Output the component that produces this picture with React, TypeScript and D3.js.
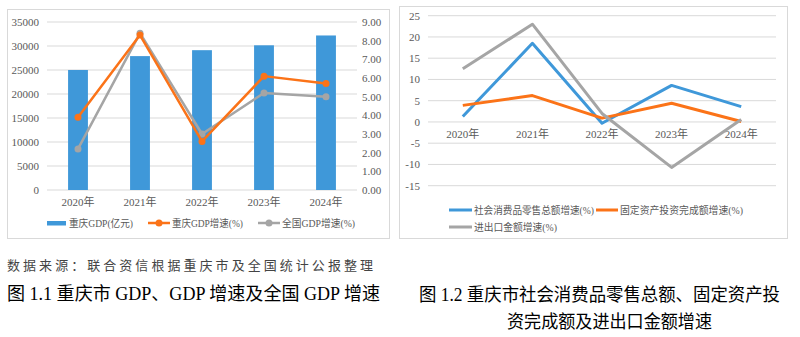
import React from "react";
import * as d3 from "d3";

const years = ["2020年", "2021年", "2022年", "2023年", "2024年"];
const cqGdp = [25003, 27894, 29129, 30145, 32193];
const cqGdpGrowth = [3.9, 8.3, 2.6, 6.1, 5.7];
const cnGdpGrowth = [2.2, 8.4, 3.0, 5.2, 5.0];
const leftTicks = [0, 5000, 10000, 15000, 20000, 25000, 30000, 35000];
const rightTicks = [0, 1, 2, 3, 4, 5, 6, 7, 8, 9];

const retailGrowth = [1.3, 18.5, -0.3, 8.6, 3.6];
const investGrowth = [3.9, 6.2, 0.9, 4.4, 0.1];
const tradeGrowth = [12.5, 23.0, 2.0, -10.7, 0.6];
const r2Ticks = [-15, -10, -5, 0, 5, 10, 15, 20, 25];

const sourceText = "数据来源：联合资信根据重庆市及全国统计公报整理";
const caption1 = "图 1.1 重庆市 GDP、GDP 增速及全国 GDP 增速";
const caption2a = "图 1.2 重庆市社会消费品零售总额、固定资产投";
const caption2b = "资完成额及进出口金额增速";

const BLUE = "#3f98d9";
const ORANGE = "#fb7318";
const GRAY = "#a5a5a5";
const GRID = "#d9d9d9";
const LABEL = "#595959";
const FONT = "'Liberation Serif', 'Noto Sans CJK SC', serif";
const CJK = "'Noto Sans CJK SC', sans-serif";

export default function App() {
  const x1 = d3.scaleBand<string>().domain(years).range([47, 357]).paddingInner(0.68).paddingOuter(0.34);
  const yL = d3.scaleLinear().domain([0, 35000]).range([190, 22]);
  const yR = d3.scaleLinear().domain([0, 9]).range([190, 22]);
  const cx1 = (d: string) => (x1(d) as number) + x1.bandwidth() / 2;
  const lineCq = d3.line<number>().x((_, i) => cx1(years[i])).y((v) => yR(v));

  const x2 = d3.scalePoint<string>().domain(years).range([428, 776]).padding(0.5);
  const y2 = d3.scaleLinear().domain([-15, 25]).range([185.7, 15.7]);
  const line2 = d3.line<number>().x((_, i) => x2(years[i]) as number).y((v) => y2(v));

  const legText = (x: number, y: number, s: string, w: number) => (
    <text x={x} y={y} dy="0.35em" fontSize={10.5} fill={LABEL} fontFamily={FONT} textLength={w} lengthAdjust="spacingAndGlyphs">{s}</text>
  );

  return (
    <svg width={800} height={337} style={{ position: "absolute", left: 0, top: 0, background: "#fff" }}>
      <rect x={0} y={0} width={800} height={337} fill="#fff" />
      <rect x={7.5} y={9.5} width={382} height={229} fill="#fff" stroke={GRID} strokeWidth={1} />
      {leftTicks.map((t) => (
        <g key={"lt" + t}>
          <line x1={47} x2={357} y1={yL(t)} y2={yL(t)} stroke={GRID} strokeWidth={1} />
          <text x={39} y={yL(t)} dy="0.35em" textAnchor="end" fontSize={11} fill={LABEL} fontFamily={FONT}>{t}</text>
        </g>
      ))}
      {rightTicks.map((t) => (
        <text key={"rt" + t} x={362} y={yR(t)} dy="0.35em" textAnchor="start" fontSize={11} fill={LABEL} fontFamily={FONT}>{t.toFixed(2)}</text>
      ))}
      {cqGdp.map((v, i) => (
        <rect key={"b" + i} x={x1(years[i])} y={yL(v)} width={x1.bandwidth()} height={yL(0) - yL(v)} fill={BLUE} />
      ))}
      <path d={lineCq(cnGdpGrowth) as string} fill="none" stroke={GRAY} strokeWidth={2.5} strokeLinejoin="round" />
      {cnGdpGrowth.map((v, i) => (
        <circle key={"cg" + i} cx={cx1(years[i])} cy={yR(v)} r={3.5} fill={GRAY} />
      ))}
      <path d={lineCq(cqGdpGrowth) as string} fill="none" stroke={ORANGE} strokeWidth={2.5} strokeLinejoin="round" />
      {cqGdpGrowth.map((v, i) => (
        <circle key={"co" + i} cx={cx1(years[i])} cy={yR(v)} r={3.5} fill={ORANGE} />
      ))}
      {years.map((y) => (
        <text key={"x1" + y} x={cx1(y)} y={202} dy="0.35em" textAnchor="middle" fontSize={11} fill={LABEL} fontFamily={FONT}>{y}</text>
      ))}
      <rect x={47} y={221} width={19} height={4.5} fill={BLUE} />
      {legText(69, 223, "重庆GDP(亿元)", 64)}
      <line x1={148} x2={170} y1={223} y2={223} stroke={ORANGE} strokeWidth={2.5} />
      <circle cx={159} cy={223} r={3.5} fill={ORANGE} />
      {legText(172, 223, "重庆GDP增速(%)", 71)}
      <line x1={258} x2={280} y1={223} y2={223} stroke={GRAY} strokeWidth={2.5} />
      <circle cx={269} cy={223} r={3.5} fill={GRAY} />
      {legText(282, 223, "全国GDP增速(%)", 73)}

      <rect x={399.5} y={6.5} width={388} height={232} fill="#fff" stroke={GRID} strokeWidth={1} />
      {r2Ticks.map((t) => (
        <g key={"r2" + t}>
          <line x1={428} x2={776} y1={y2(t)} y2={y2(t)} stroke={GRID} strokeWidth={1} />
          <text x={420} y={y2(t)} dy="0.35em" textAnchor="end" fontSize={11} fill={LABEL} fontFamily={FONT}>{t}</text>
        </g>
      ))}
      {years.map((y) => (
        <text key={"x2" + y} x={x2(y) as number} y={134} dy="0.35em" textAnchor="middle" fontSize={11} fill={LABEL} fontFamily={FONT}>{y}</text>
      ))}
      <path d={line2(retailGrowth) as string} fill="none" stroke={BLUE} strokeWidth={3} strokeLinejoin="round" />
      <path d={line2(investGrowth) as string} fill="none" stroke={ORANGE} strokeWidth={3} strokeLinejoin="round" />
      <path d={line2(tradeGrowth) as string} fill="none" stroke={GRAY} strokeWidth={3} strokeLinejoin="round" />
      <line x1={449} x2={472} y1={210} y2={210} stroke={BLUE} strokeWidth={3} />
      {legText(474, 210, "社会消费品零售总额增速(%)", 120)}
      <line x1={596} x2={618} y1={210} y2={210} stroke={ORANGE} strokeWidth={3} />
      {legText(620, 210, "固定资产投资完成额增速(%)", 123)}
      <line x1={449} x2={472} y1={227} y2={227} stroke={GRAY} strokeWidth={3} />
      {legText(474, 227, "进出口金额增速(%)", 83)}

      <text x={7} y={270} fontSize={13} fill="#444" fontFamily={CJK} textLength={366} lengthAdjust="spacing">{sourceText}</text>
      <text x={7} y={300} fontSize={18} fill="#000" fontFamily={FONT} textLength={373} lengthAdjust="spacingAndGlyphs">{caption1}</text>
      <text x={419} y={301} fontSize={18} fill="#000" fontFamily={FONT} textLength={361} lengthAdjust="spacingAndGlyphs">{caption2a}</text>
      <text x={507} y={328} fontSize={18} fill="#000" fontFamily={FONT} textLength={205} lengthAdjust="spacingAndGlyphs">{caption2b}</text>
    </svg>
  );
}
